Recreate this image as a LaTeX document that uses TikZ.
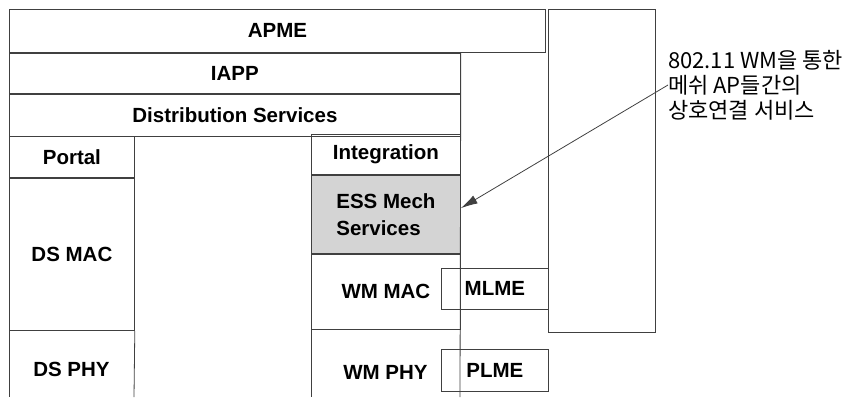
\documentclass[tikz,border=0pt]{standalone}
\usepackage{fontspec}
\setmainfont{Liberation Sans}
\newfontfamily\krfont{Noto Sans CJK KR}
\usetikzlibrary{arrows.meta}
\tikzset{
  wire/.style={draw=black!75, line width=0.8pt},
  cell/.style={wire, font=\bfseries\fontsize{20.5}{27}\selectfont, inner sep=0pt, anchor=north west},
  tag/.style={font=\bfseries\fontsize{20.5}{27}\selectfont},
}
\begin{document}
\begin{tikzpicture}[x=1pt, y=-1pt]
\useasboundingbox (0,0) rectangle (849,407);
% stack, left part
\node[cell, minimum width=536pt, minimum height=43pt] (apme) at (9,9) {APME};
\node[cell, minimum width=451pt, minimum height=40pt] (iapp) at (apme.south west) {IAPP};
\node[cell, minimum width=451pt, minimum height=42pt] (dist) at (iapp.south west) {Distribution Services};
\node[cell, minimum width=125pt, minimum height=41pt] (portal) at (dist.south west) {Portal};
\node[cell, minimum width=125pt, minimum height=152pt] (dsmac) at (portal.south west) {DS MAC};
\node[tag] (dsphy) at (71.5,369) {DS PHY};
% stack, WM part
\node[cell, minimum width=149pt, minimum height=40pt] (integ) at (311,134) {Integration};
\node[cell, fill=black!17, minimum width=149pt, minimum height=78pt, align=left] (ess) at (integ.south west) {ESS Mech\\Services};
\node[cell, minimum width=149pt, minimum height=75pt] (wmmac) at (ess.south west) {WM MAC};
\node[tag] (wmphy) at (385.5,372) {WM PHY};
% open columns
\draw[wire] (dsmac.south west) -- (9,397);
\draw[wire] (dsmac.south east) -- (134,397);
\draw[wire] (integ.north west) -- (311,397);
\draw[wire] (iapp.north east) -- (460,397);
% management boxes
\node[cell, minimum width=107pt, minimum height=41pt] (mlme) at (441,268) {MLME};
\node[cell, minimum width=107pt, minimum height=42pt] (plme) at (441,349) {PLME};
\node[cell, minimum width=107pt, minimum height=323pt] (mgmt) at (548,9) {};
% note
\node[font=\krfont\fontsize{22}{25}\selectfont, align=left, anchor=west, inner sep=0pt] (note) at (668,85) {802.11 WM을 통한\\메쉬 AP들간의\\상호연결 서비스};
\draw[wire, -{Latex[length=17pt, width=9pt]}] (note.west) -- ([yshift=6pt]ess.east);
\end{tikzpicture}
\end{document}
